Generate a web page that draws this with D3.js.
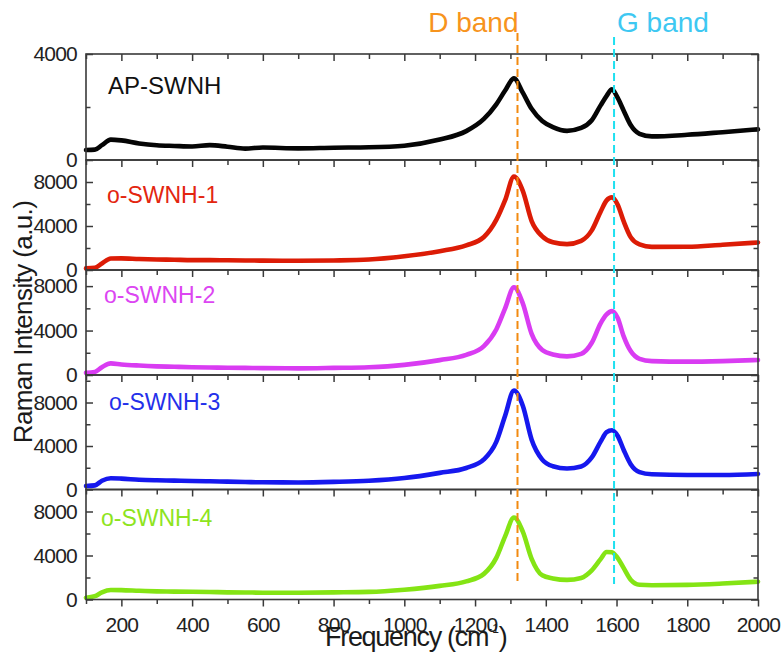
<!DOCTYPE html>
<html>
<head>
<meta charset="utf-8">
<script src="https://cdn.jsdelivr.net/npm/d3@7"></script>
<style>
  html, body { margin: 0; padding: 0; background: #fff; }
  svg { display: block; font-family: "Liberation Sans", Arial, Helvetica, sans-serif; }
</style>
</head>
<body>
<svg id="chart" width="783" height="654"></svg>
<script>
// Raman shift grid (cm^-1) shared by all spectra
const freq = [100, 125, 145, 170, 200, 250, 300, 350, 400, 450, 500, 550, 600, 700, 800, 900,
  1000, 1100, 1175, 1225, 1260, 1285, 1310, 1335, 1360, 1390, 1420, 1460, 1500, 1530, 1555,
  1572, 1587, 1603, 1620, 1640, 1665, 1700, 1800, 1900, 2000];

// Intensities (a.u.) for each sample
const apSwnh = [380, 390, 560, 770, 740, 625, 555, 530, 510, 560, 500, 430, 470, 440, 465, 480,
  540, 770, 1090, 1550, 2100, 2620, 3080, 2540, 1930, 1470, 1240, 1100, 1210, 1500, 2060,
  2420, 2670, 2350, 1870, 1320, 990, 890, 950, 1050, 1157];
const oSwnh1 = [150, 200, 600, 1050, 1060, 1000, 960, 930, 900, 900, 880, 870, 850, 840, 870, 950,
  1250, 1710, 2240, 3000, 4550, 6350, 8500, 7200, 4450, 3060, 2520, 2350, 2650, 3600, 5300,
  6330, 6600, 5950, 4440, 2990, 2320, 2100, 2120, 2300, 2500];
const oSwnh2 = [200, 280, 700, 1050, 950, 850, 780, 740, 700, 680, 650, 640, 620, 600, 640, 700,
  910, 1340, 1810, 2600, 4100, 6000, 7900, 6450, 3700, 2250, 1850, 1680, 1900, 2900, 4650,
  5450, 5750, 5150, 3500, 2150, 1450, 1250, 1200, 1250, 1350];
const oSwnh3 = [320, 380, 800, 1030, 1000, 900, 850, 820, 780, 760, 720, 690, 660, 650, 700, 800,
  1050, 1530, 1980, 2770, 4380, 6780, 9100, 7700, 4580, 2750, 2140, 1930, 2120, 2950, 4400,
  5270, 5450, 4950, 3660, 2330, 1600, 1400, 1330, 1340, 1430];
const oSwnh4 = [160, 300, 650, 860, 850, 790, 740, 720, 700, 680, 650, 640, 620, 620, 650, 690,
  890, 1240, 1650, 2330, 3780, 5740, 7450, 6170, 3700, 2200, 1920, 1780, 1960, 2650, 3670,
  4320, 4300, 3780, 2870, 1800, 1340, 1300, 1330, 1450, 1620];

const sampleNames = ["AP-SWNH", "o-SWNH-1", "o-SWNH-2", "o-SWNH-3", "o-SWNH-4"];
const sampleValues = [apSwnh, oSwnh1, oSwnh2, oSwnh3, oSwnh4];
const lineColors = ["#050505", "#dc1c06", "#d93cf2", "#1618ee", "#84e414"];
const labelColors = ["#111111", "#e3260f", "#dc46f2", "#2430ea", "#8ee41e"];

// Axis ranges and ticks
const xDomain = [100, 2000];
const xMajorTicks = [200, 400, 600, 800, 1000, 1200, 1400, 1600, 1800, 2000];
const xMinorTicks = [100, 300, 500, 700, 900, 1100, 1300, 1500, 1700, 1900];
const yMaxes = [4000, 10000, 9450, 10530, 10000];
const yMajorTicks = [[0, 4000], [0, 4000, 8000], [0, 4000, 8000], [0, 4000, 8000], [0, 4000, 8000]];
const yMinorTicks = [[2000], [2000, 6000], [2000, 6000], [2000, 6000, 10000], [2000, 6000]];

// Band markers
const bandNames = ["D band", "G band"];
const bandFreqs = [1320, 1593];
const bandLabelColors = ["#f7941d", "#3ec8f2"];
const bandLineColors = ["#f28a10", "#1ee0f0"];

// ---- layout ----
const svg = d3.select("#chart");
const plotLeft = 86, plotRight = 758;
const panelEdges = [54, 160, 270, 375, 489.5, 599.5];
const frameColor = "#3a3a3a";
const tickFont = 21;

const x = d3.scaleLinear().domain(xDomain).range([plotLeft, plotRight]);

const line = d3.line().curve(d3.curveMonotoneX);

sampleNames.forEach((name, i) => {
  const top = panelEdges[i], bottom = panelEdges[i + 1];
  const y = d3.scaleLinear().domain([0, yMaxes[i]]).range([bottom, top]);
  const g = svg.append("g");

  // spectrum
  g.append("path")
    .attr("d", line(freq.map((f, k) => [x(f), y(sampleValues[i][k])])))
    .attr("fill", "none")
    .attr("stroke", lineColors[i])
    .attr("stroke-width", 4.6)
    .attr("stroke-linejoin", "round")
    .attr("stroke-linecap", "round");

  // frame
  g.append("rect")
    .attr("x", plotLeft).attr("y", top)
    .attr("width", plotRight - plotLeft).attr("height", bottom - top)
    .attr("fill", "none").attr("stroke", frameColor).attr("stroke-width", 1.6);

  // left axis, ticks pointing inward
  const left = g.append("g").attr("transform", `translate(${plotLeft},0)`)
    .call(d3.axisLeft(y).tickValues(yMajorTicks[i]).tickSize(-7).tickPadding(9)
      .tickFormat(d3.format("d")));
  g.append("g").attr("transform", `translate(${plotLeft},0)`)
    .call(d3.axisLeft(y).tickValues(yMinorTicks[i]).tickSize(-4.5).tickFormat(""));

  // right axis, ticks pointing inward
  g.append("g").attr("transform", `translate(${plotRight},0)`)
    .call(d3.axisRight(y).tickValues(yMajorTicks[i]).tickSize(-7).tickFormat(""));
  g.append("g").attr("transform", `translate(${plotRight},0)`)
    .call(d3.axisRight(y).tickValues(yMinorTicks[i]).tickSize(-4.5).tickFormat(""));

  // top edge ticks pointing down into the panel
  g.append("g").attr("transform", `translate(0,${top})`)
    .call(d3.axisTop(x).tickValues(xMajorTicks).tickSize(-7).tickFormat(""));
  g.append("g").attr("transform", `translate(0,${top})`)
    .call(d3.axisTop(x).tickValues(xMinorTicks).tickSize(-5).tickFormat(""));

  left.selectAll("text")
    .attr("font-size", tickFont).attr("letter-spacing", "-0.8px")
    .attr("fill", "#222").attr("font-family", "Liberation Sans, Arial, sans-serif");

  // sample label
  g.append("text")
    .attr("x", i === 0 ? 108 : [0, 107, 104, 109, 101][i])
    .attr("y", [94, 203, 303, 410, 526][i])
    .attr("font-size", i === 0 ? 24 : 23)
    .attr("fill", labelColors[i])
    .text(name);
});

// style all axis lines/ticks
svg.selectAll(".domain").remove();
svg.selectAll(".tick line").attr("stroke", frameColor).attr("stroke-width", 1.5);

// bottom axis
const bottomY = panelEdges[panelEdges.length - 1];
const bx = svg.append("g").attr("transform", `translate(0,${bottomY})`)
  .call(d3.axisBottom(x).tickValues(xMajorTicks).tickSize(7).tickPadding(11).tickFormat(d3.format("d")));
svg.append("g").attr("transform", `translate(0,${bottomY})`)
  .call(d3.axisBottom(x).tickValues(xMinorTicks).tickSize(4.5).tickFormat(""));
svg.selectAll(".domain").remove();
svg.selectAll(".tick line").attr("stroke", frameColor).attr("stroke-width", 1.5);
bx.selectAll("text")
  .attr("font-size", tickFont).attr("letter-spacing", "-0.8px")
  .attr("fill", "#222").attr("font-family", "Liberation Sans, Arial, sans-serif");

// axis titles
const xt = svg.append("text")
  .attr("x", 325).attr("y", 646)
  .attr("font-size", 27).attr("letter-spacing", "-1.3px").attr("fill", "#1a1a1a")
  .text("Frequency (cm");
xt.append("tspan").attr("font-size", 12).attr("dy", -13).attr("letter-spacing", "0px").text("-1");
xt.append("tspan").attr("dy", 13).text(")");

svg.append("text")
  .attr("transform", "translate(32,322) rotate(-90)")
  .attr("text-anchor", "middle")
  .attr("font-size", 26).attr("letter-spacing", "-0.6px").attr("fill", "#1a1a1a")
  .text("Raman Intensity (a.u.)");

// band markers
bandNames.forEach((name, i) => {
  const bxp = x(bandFreqs[i]);
  svg.append("line")
    .attr("x1", bxp).attr("x2", bxp)
    .attr("y1", i === 0 ? 33 : 37).attr("y2", i === 0 ? 582 : 584)
    .attr("stroke", bandLineColors[i]).attr("stroke-width", 2)
    .attr("stroke-dasharray", "8,4");
  svg.append("text")
    .attr("x", i === 0 ? bxp + 1 : bxp + 3)
    .attr("y", 32)
    .attr("text-anchor", i === 0 ? "end" : "start")
    .attr("font-size", 28)
    .attr("fill", bandLabelColors[i])
    .text(name);
});
</script>
</body>
</html>
